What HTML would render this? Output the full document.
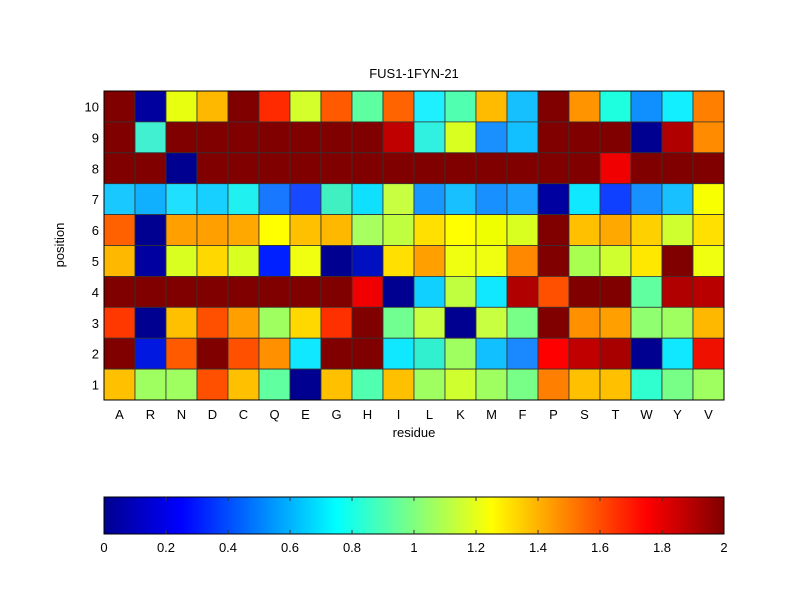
<!DOCTYPE html>
<html><head><style>body{margin:0;background:#fff}svg{display:block}text{font-family:"Liberation Sans",sans-serif;font-size:13px;fill:#000}</style></head>
<body>
<svg width="800" height="600" xmlns="http://www.w3.org/2000/svg">
<defs><linearGradient id="jet" x1="0" x2="1" y1="0" y2="0">
<stop offset="0" stop-color="#00008f"/><stop offset="0.125" stop-color="#0000ff"/><stop offset="0.375" stop-color="#00ffff"/><stop offset="0.625" stop-color="#ffff00"/><stop offset="0.875" stop-color="#ff0000"/><stop offset="1" stop-color="#800000"/></linearGradient></defs>
<text x="414" y="78" text-anchor="middle">FUS1-1FYN-21</text>
<g id="cells" stroke="#333" stroke-width="0.8"></g>
<rect x="104" y="91" width="620" height="309" fill="none" stroke="#000" stroke-width="1"/>
<g text-anchor="end" id="yl"></g>
<g text-anchor="middle" id="xl"></g>
<text x="414" y="437" text-anchor="middle">residue</text>
<text transform="translate(64,245) rotate(-90)" text-anchor="middle">position</text>
<rect x="104" y="497" width="620" height="37" fill="url(#jet)" stroke="#000" stroke-width="1"/>
<g text-anchor="middle">
<text x="104" y="552">0</text><text x="166" y="552">0.2</text><text x="228" y="552">0.4</text><text x="290" y="552">0.6</text><text x="352" y="552">0.8</text><text x="414" y="552">1</text><text x="476" y="552">1.2</text><text x="538" y="552">1.4</text><text x="600" y="552">1.6</text><text x="662" y="552">1.8</text><text x="724" y="552">2</text>
</g>
<g stroke="#333" stroke-width="1">
<line x1="166" y1="497" x2="166" y2="501"/><line x1="228" y1="497" x2="228" y2="501"/><line x1="290" y1="497" x2="290" y2="501"/><line x1="352" y1="497" x2="352" y2="501"/><line x1="414" y1="497" x2="414" y2="501"/><line x1="476" y1="497" x2="476" y2="501"/><line x1="538" y1="497" x2="538" y2="501"/><line x1="600" y1="497" x2="600" y2="501"/><line x1="662" y1="497" x2="662" y2="501"/>
<line x1="166" y1="534" x2="166" y2="530"/><line x1="228" y1="534" x2="228" y2="530"/><line x1="290" y1="534" x2="290" y2="530"/><line x1="352" y1="534" x2="352" y2="530"/><line x1="414" y1="534" x2="414" y2="530"/><line x1="476" y1="534" x2="476" y2="530"/><line x1="538" y1="534" x2="538" y2="530"/><line x1="600" y1="534" x2="600" y2="530"/><line x1="662" y1="534" x2="662" y2="530"/>
</g>
</svg>
<script>
var D="#800000",N="#000090";
var rows=[
[D,"#00009e","#e8ff10","#ffb800",D,"#ff2a00","#d4ff2b","#ff5a00","#5effa0","#ff6400","#1ef0ff","#50ffb0","#ffbb00","#16c0ff",D,"#ff9400","#1effe0","#1090ff","#12f0ff","#ff8000"],
[D,"#40f0d0",D,D,D,D,D,D,D,"#c00000","#30f0e0","#d8ff20","#1a90ff","#12c0ff",D,D,D,N,"#b00000","#ff8c00"],
[D,D,N,D,D,D,D,D,D,D,D,D,D,D,D,D,"#f00000",D,D,D],
["#18c8ff","#10b0ff","#20e0ff","#18d0ff","#20f0f0","#1878ff","#1848ff","#40f0c0","#10e0ff","#c8ff40","#1898ff","#18c0ff","#1890ff","#1aa0ff","#0000a0","#10e8ff","#1040ff","#1890ff","#18c0ff","#f8ff00"],
["#ff6000",N,"#ffa000","#ffa000","#ffa800","#ffff00","#ffc000","#ffb800","#a8ff60","#c0ff40","#ffe000","#ffff00","#f0ff00","#d8ff20",D,"#ffc000","#ffa800","#ffd000","#d0ff30","#ffe000"],
["#ffb800","#0000a0","#d8ff20","#ffd800","#d8ff20","#0020ff","#f0ff10",N,"#0010c0","#ffe000","#ffa000","#f0ff10","#f0ff10","#ff8800",D,"#a8ff50","#d0ff30","#ffe800",D,"#f0ff10"],
[D,D,D,D,D,D,D,D,"#f00000",N,"#10d0ff","#c0ff40","#10e8ff","#b00000","#ff5000",D,D,"#60ffa0","#b00000","#b80000"],
["#ff3800",N,"#ffc000","#ff5000","#ffa000","#a0ff60","#ffd800","#ff3000",D,"#70ff90","#c8ff40",N,"#c8ff40","#78ff88",D,"#ff9000","#ffa000","#90ff70","#a0ff60","#ffb800"],
[D,"#0018e0","#ff5a00",D,"#ff5000","#ff9000","#10e8ff",D,D,"#10e8ff","#30f0d0","#a0ff60","#10c0ff","#1a88ff","#ff0000","#c00000","#a80000",N,"#10e8ff","#f01000"],
["#ffc000","#a0ff60","#a0ff60","#ff5000","#ffc000","#60ffa0",N,"#ffc000","#50ffb0","#ffc000","#a0ff60","#d0ff30","#a0ff60","#78ff88","#ff8000","#ffc000","#ffc000","#30ffd0","#78ff88","#a0ff60"]];
var ns="http://www.w3.org/2000/svg",g=document.getElementById("cells"),h=30.9;
rows.forEach(function(r,i){r.forEach(function(c,j){var e=document.createElementNS(ns,"rect");e.setAttribute("x",104+j*31);e.setAttribute("y",91+i*h);e.setAttribute("width",31);e.setAttribute("height",h);e.setAttribute("fill",c);g.appendChild(e);});});
var yl=document.getElementById("yl");
for(var i=0;i<10;i++){var t=document.createElementNS(ns,"text");t.setAttribute("x",99);t.setAttribute("y",91+i*h+h/2+5);t.textContent=10-i;yl.appendChild(t);}
var L="ARNDCQEGHILKMFPSTWYV",xl=document.getElementById("xl");
for(var j=0;j<20;j++){var t=document.createElementNS(ns,"text");t.setAttribute("x",104+j*31+15.5);t.setAttribute("y",419);t.textContent=L[j];xl.appendChild(t);}
</script>
</body></html>
